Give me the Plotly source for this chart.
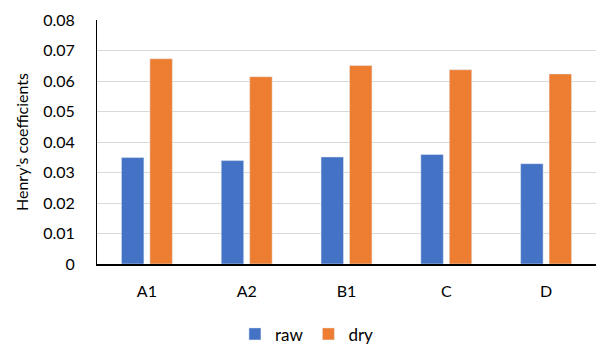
import plotly.graph_objects as go

categories = ["A1", "A2", "B1", "C", "D"]
raw_values = [0.0349, 0.0339, 0.0351, 0.0359, 0.0329]
dry_values = [0.0673, 0.0614, 0.0651, 0.0637, 0.0623]
y_ticks = [0, 0.01, 0.02, 0.03, 0.04, 0.05, 0.06, 0.07, 0.08]
y_tick_labels = ["0", "0.01", "0.02", "0.03", "0.04", "0.05", "0.06", "0.07", "0.08"]

FONT = "Lato, Open Sans, sans-serif"

fig = go.Figure()
fig.add_trace(go.Bar(name="raw", x=categories, y=raw_values, marker_color="#4472C4"))
fig.add_trace(go.Bar(name="dry", x=categories, y=dry_values, marker_color="#ED7D31"))

fig.update_layout(
    width=596,
    height=344,
    margin=dict(l=97, r=0, t=20, b=80),
    paper_bgcolor="white",
    plot_bgcolor="white",
    barmode="group",
    bargap=0.43,
    bargroupgap=0.21,
    font=dict(family=FONT, size=16, color="#000000"),
    showlegend=True,
    legend=dict(
        orientation="h",
        xref="container",
        yref="container",
        x=0.515,
        xanchor="center",
        y=0.028,
        yanchor="middle",
        font=dict(family=FONT, size=17),
        itemwidth=30,
        traceorder="normal",
    ),
)

fig.update_xaxes(
    showline=True,
    linecolor="#000000",
    linewidth=1.5,
    showgrid=False,
    ticks="outside",
    tickcolor="rgba(0,0,0,0)",
    ticklen=12,
    tickfont=dict(family=FONT, size=16),
)

fig.update_yaxes(
    range=[0, 0.08],
    tickvals=y_ticks,
    ticktext=y_tick_labels,
    showline=True,
    linecolor="#000000",
    linewidth=1,
    showgrid=True,
    gridcolor="#D9D9D9",
    gridwidth=1,
    zeroline=False,
    ticks="outside",
    tickcolor="rgba(0,0,0,0)",
    ticklen=18,
    tickfont=dict(family=FONT, size=16),
    title=dict(text="Henry’s coefficients", font=dict(family=FONT, size=16), standoff=10),
)

fig.write_html("out.html")
